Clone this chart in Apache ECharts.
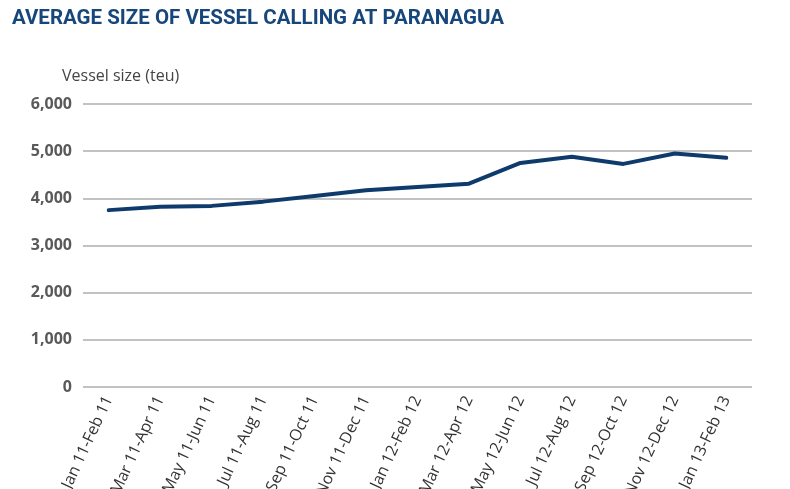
<!DOCTYPE html>
<html>
<head>
<meta charset="utf-8">
<script src="https://cdn.jsdelivr.net/npm/echarts@6/dist/echarts.min.js"></script>
<style>
  html, body { margin: 0; padding: 0; background: #fff; }
  #main { width: 790px; height: 489px; }
</style>
</head>
<body>
<div id="main"></div>
<script>
var categories = ['Jan 11-Feb 11', 'Mar 11-Apr 11', 'May 11-Jun 11', 'Jul 11-Aug 11',
  'Sep 11-Oct 11', 'Nov 11-Dec 11', 'Jan 12-Feb 12', 'Mar 12-Apr 12', 'May 12-Jun 12',
  'Jul 12-Aug 12', 'Sep 12-Oct 12', 'Nov 12-Dec 12', 'Jan 13-Feb 13'];
var vesselSize = [3750, 3820, 3840, 3930, 4050, 4170, 4240, 4310, 4750, 4880, 4730, 4950, 4860];

var chart = echarts.init(document.getElementById('main'));

var option = {
  animation: false,
  title: {
    text: 'AVERAGE SIZE OF VESSEL CALLING AT PARANAGUA',
    left: 7,
    top: 3,
    textStyle: {
      fontFamily: '"Liberation Sans Narrow", "Roboto", sans-serif',
      fontSize: 20.5,
      fontWeight: 'bold',
      color: '#17467a'
    }
  },
  grid: {
    left: 83,
    right: 38,
    top: 104,
    bottom: 102,
    containLabel: false,
    outerBoundsMode: 'none'
  },
  xAxis: {
    type: 'category',
    data: categories,
    boundaryGap: true,
    axisLine: { show: false },
    axisTick: { show: false },
    axisLabel: {
      rotate: 65,
      interval: 0,
      margin: 10,
      color: '#333',
      fontSize: 16,
      fontFamily: '"Open Sans", sans-serif'
    }
  },
  yAxis: {
    type: 'value',
    min: 0,
    max: 6000,
    interval: 1000,
    name: 'Vessel size (teu)',
    nameLocation: 'end',
    nameGap: 20,
    nameTextStyle: {
      align: 'left',
      padding: [0, 0, 0, -21],
      color: '#444',
      fontSize: 16,
      fontFamily: '"Open Sans", sans-serif'
    },
    axisLine: { show: false },
    axisTick: { show: false },
    axisLabel: {
      margin: 11,
      color: '#595959',
      fontSize: 16,
      fontWeight: 'bold',
      fontFamily: '"Open Sans", sans-serif',
      formatter: function (v) {
        return v.toLocaleString('en-US');
      }
    },
    splitLine: {
      lineStyle: { color: '#c2c2c2', width: 2 }
    }
  },
  series: [{
    name: 'Vessel size',
    type: 'line',
    data: vesselSize,
    symbol: 'none',
    lineStyle: {
      color: '#0e3b6c',
      width: 4,
      cap: 'round',
      join: 'round'
    }
  }]
};

chart.setOption(option);
</script>
</body>
</html>
